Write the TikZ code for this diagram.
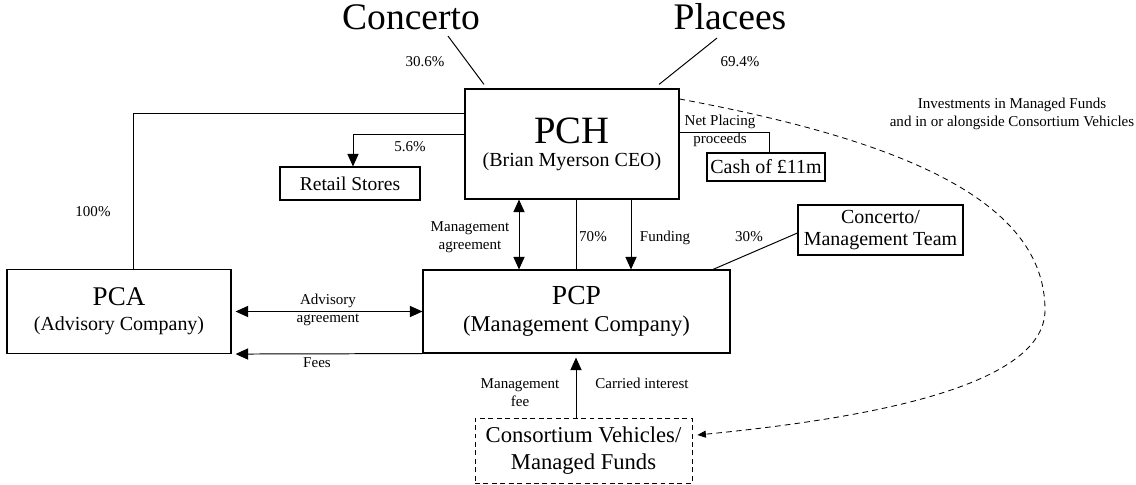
\documentclass[tikz,border=0pt]{standalone}
\usepackage{fontspec}
\setmainfont{Liberation Serif}
\usetikzlibrary{arrows.meta,calc}

\begin{document}
\begin{tikzpicture}[
  box/.style={draw, rectangle, line width=0.8pt, inner sep=0pt, align=center},
  owner/.style={font=\fontsize{26.7}{30}\selectfont, inner sep=1pt, anchor=base},
  lbl/.style={font=\fontsize{10.7}{12.8}\selectfont, align=center, inner sep=0pt},
  ln/.style={line width=0.7pt},
  arr/.style={ln, -{Triangle[width=8pt,length=9pt]}},
  dbl/.style={ln, {Triangle[width=8pt,length=9pt]}-{Triangle[width=8pt,length=9pt]}}]
  \useasboundingbox (0,0) rectangle (28.4,-12.125);
  % Shareholders
  \node[owner] (concerto) at (10.275,-0.75) {Concerto};
  \node[owner] (placees)  at (18.25,-0.75)  {Placees};
  % Companies
  \node[box, minimum width=5.35cm, minimum height=2.75cm,
    font=\fontsize{14.2}{16.4}\selectfont] (pch) at (14.3,-3.6)
    {{\fontsize{27.5}{27}\selectfont PCH}\\(Brian Myerson CEO)};
  \node[box, minimum width=7.675cm, minimum height=2.075cm,
    font=\fontsize{16.1}{19.2}\selectfont] (pcp) at (14.4125,-7.7875)
    {{\fontsize{19.6}{20}\selectfont PCP}\\(Management Company)};
  \node[box, minimum width=5.6cm, minimum height=2.1cm,
    font=\fontsize{14.2}{17.8}\selectfont] (pca) at (2.975,-7.7875)
    {{\fontsize{19.2}{20}\selectfont PCA}\\(Advisory Company)};
  \node[box, minimum width=3.5cm, minimum height=0.825cm,
    font=\fontsize{13.9}{16}\selectfont] (retail) at (8.75,-4.5875) {Retail Stores};
  \node[box, minimum width=2.95cm, minimum height=0.7cm,
    font=\fontsize{14.2}{16}\selectfont] (cash) at (19.15,-4.175) {Cash of £11m};
  \node[box, minimum width=4.125cm, minimum height=1.25cm,
    font=\fontsize{14.2}{15.3}\selectfont] (team) at (22.0125,-5.75)
    {Concerto/\\Management Team};
  \node[box, line width=0.6pt, dash pattern=on 3.5pt off 2.5pt,
    minimum width=5.425cm, minimum height=1.625cm,
    font=\fontsize{16.1}{19.2}\selectfont] (cv) at (14.5875,-11.2625)
    {Consortium Vehicles/\\Managed Funds};
  % Labels
  \node[lbl] (p306)     at (10.625,-1.55) {30.6\%};
  \node[lbl] (p694)     at (18.5,-1.55)   {69.4\%};
  \node[lbl] (p56)      at (10.25,-3.675) {5.6\%};
  \node[lbl] (p100)     at (2.325,-5.3)   {100\%};
  \node[lbl] (mgmtagr)  at (11.75,-5.925) {Management\\agreement};
  \node[lbl] (p70)      at (14.825,-5.925) {70\%};
  \node[lbl] (fund)     at (16.625,-5.95) {Funding};
  \node[lbl] (p30)      at (18.725,-5.925) {30\%};
  \node[lbl] (advagr)   at (8.2,-7.75)    {Advisory\\agreement};
  \node[lbl] (fees)     at (7.925,-9.075) {Fees};
  \node[lbl] (mgmtfee)  at (13,-9.825)    {Management\\fee};
  \node[lbl] (carried)  at (16.05,-9.575) {Carried interest};
  \node[lbl] (netplace) at (18,-3.275)    {Net Placing\\proceeds};
  \node[lbl] (invest)   at (25.3,-2.85)
    {Investments in Managed Funds\\and in or alongside Consortium Vehicles};
  % Ownership lines
  \draw[ln] ([xshift=0.925cm,yshift=-0.1cm]concerto.south) -- ([xshift=-2.2cm,yshift=0.1cm]pch.north);
  \draw[ln] ([xshift=-0.325cm,yshift=-0.15cm]placees.south) -- ([xshift=2.175cm,yshift=0.1cm]pch.north);
  \draw[ln] ([yshift=0.775cm]pch.west) -| ([xshift=0.35cm]pca.north);
  \draw[arr] ([yshift=0.25cm]pch.west) -| ([xshift=0.075cm]retail.north);
  \draw[ln] ([yshift=0.3cm]pch.east) -| ([xshift=0.075cm]cash.north);
  \draw[ln] ([xshift=0.1cm]pch.south) -- ([xshift=0.1cm]pch.south |- pcp.north);
  \draw[ln] ([xshift=3.4125cm]pcp.north) -- ([yshift=-0.075cm]team.west);
  % Agreements and flows
  \draw[dbl] ([xshift=-1.325cm]pch.south) -- ([xshift=-1.325cm]pch.south |- pcp.north);
  \draw[arr] ([xshift=1.475cm]pch.south) -- ([xshift=1.475cm]pch.south |- pcp.north);
  \draw[dbl, shorten <=0.1cm] (pca.east) -- (pcp.west);
  \draw[arr, shorten >=0.1cm] (pcp.south west) -- (pca.south east);
  \draw[arr, shorten >=0.1cm] ([xshift=-0.1875cm]cv.north) -- ([xshift=-0.1875cm]cv.north |- pcp.south);
  % Investments
  \draw[line width=0.6pt, dash pattern=on 4pt off 3pt, -{Triangle[width=5pt,length=6pt]}]
    ([yshift=1.125cm]pch.east) .. controls (22.5,-3.5) and (26.125,-5) .. (26.125,-7.75)
    .. controls (26.125,-9.75) and (21.25,-10.5) .. ([xshift=0.125cm,yshift=0.3875cm]cv.east);
\end{tikzpicture}
\end{document}
